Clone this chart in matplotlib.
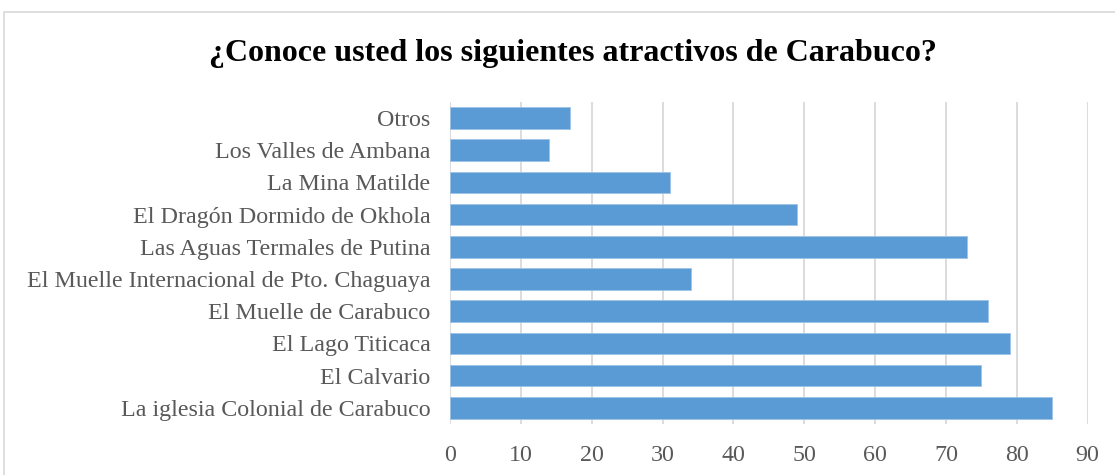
import matplotlib
matplotlib.use("Agg")
import matplotlib.pyplot as plt
from matplotlib.patches import Rectangle

# Data (bottom to top as drawn)
categories = [
    "La iglesia Colonial de Carabuco",
    "El Calvario",
    "El Lago Titicaca",
    "El Muelle de Carabuco",
    "El Muelle Internacional de Pto. Chaguaya",
    "Las Aguas Termales de Putina",
    "El Dragón Dormido de Okhola",
    "La Mina Matilde",
    "Los Valles de Ambana",
    "Otros",
]
values = [85, 75, 79, 76, 34, 73, 49, 31, 14, 17]
xticks = list(range(0, 100, 10))

TITLE = "¿Conoce usted los siguientes atractivos de Carabuco?"
BAR_COLOR = "#5b9bd5"
GRID_COLOR = "#d9d9d9"
TEXT_COLOR = "#595959"

plt.rcParams["font.family"] = ["Liberation Serif", "DejaVu Serif"]

fig = plt.figure(figsize=(11.15, 4.75), dpi=100)
ax = fig.add_axes([0.4036, 0.1074, 0.5719, 0.6779])

ax.barh(range(len(categories)), values, height=0.67, color=BAR_COLOR,
        edgecolor="#9dc3e6", linewidth=0.6, zorder=3)
ax.set_yticks(range(len(categories)))
ax.set_yticklabels(categories, fontsize=17.3, color=TEXT_COLOR)
ax.set_xticks(xticks)
ax.set_xticklabels([str(t) for t in xticks], fontsize=17.3, color=TEXT_COLOR)
ax.set_xlim(0, 90)
ax.set_ylim(-0.5, len(categories) - 0.5)

ax.grid(axis="x", color=GRID_COLOR, linewidth=1.3, zorder=0)
ax.tick_params(axis="y", length=0, pad=14)
ax.tick_params(axis="x", length=0, pad=15)
for s in ax.spines.values():
    s.set_visible(False)

fig.text(0.5135, 0.888, TITLE, ha="center", va="center", fontsize=23,
         fontweight="bold", color="black")

# chart border (right and bottom edges fall outside the image)
fig.add_artist(Rectangle((4 / 1115, -0.05), 1.05, 1.05 - 12 / 475,
                         transform=fig.transFigure, fill=False,
                         edgecolor=GRID_COLOR, linewidth=1.2))

fig.savefig("out.png", dpi=100)
